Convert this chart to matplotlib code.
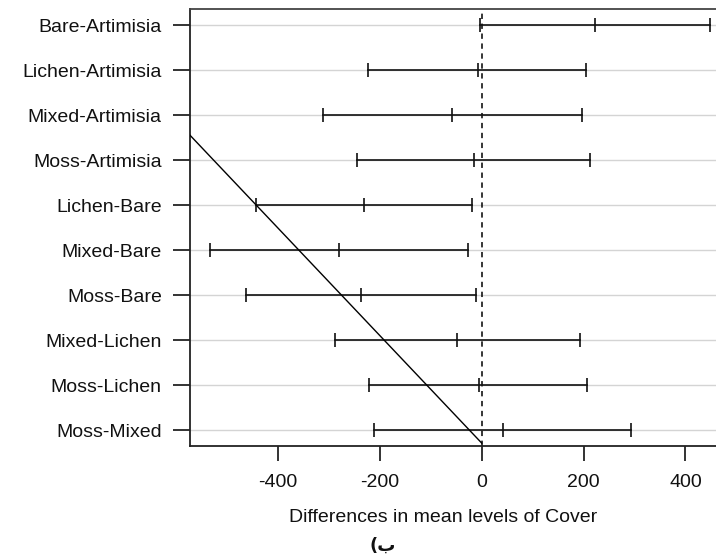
import matplotlib
matplotlib.use("Agg")
import matplotlib.pyplot as plt
import numpy as np

comparisons = ["Bare-Artimisia", "Lichen-Artimisia", "Mixed-Artimisia", "Moss-Artimisia",
               "Lichen-Bare", "Mixed-Bare", "Moss-Bare", "Mixed-Lichen", "Moss-Lichen", "Moss-Mixed"]
diff = [222, -8, -58, -16, -231, -281, -238, -48, -6, 42]
lwr = [-4, -223, -311, -245, -444, -533, -464, -289, -221, -212]
upr = [449, 204, 196, 212, -19, -27, -12, 193, 207, 294]
xticks = [-400, -200, 0, 200, 400]
line_x = [-574, 0]
line_y = [7.57, 0.71]

plt.rcParams['font.family'] = ['Liberation Sans', 'DejaVu Sans']

fig = plt.figure(figsize=(7.16, 5.6), dpi=100)
ax = fig.add_axes([189.6/716, 1-446.3/560, (730.5-189.6)/716, (446.3-9.3)/560])

n = len(comparisons)
yvals = np.arange(n, 0, -1)

for y in yvals:
    ax.axhline(y, color='#d4d4d4', lw=1.0, zorder=0)

ax.axvline(0, color='black', lw=1.1, ls=(0, (3.5, 3)), zorder=2)

for i in range(n):
    y = yvals[i]
    ax.plot([lwr[i], upr[i]], [y, y], color='#111111', lw=1.2, zorder=3)
    ax.plot([lwr[i], diff[i], upr[i]], [y, y, y], ls='none', marker='|',
            ms=10, mew=1.2, color='#111111', zorder=3)

ax.plot(line_x, line_y, color='black', lw=1.0, zorder=4)

ax.set_xlim(-573.9, 488.6)
ax.set_ylim(0.64, 10.36)
ax.set_xticks(xticks)
ax.set_xticklabels([str(v) for v in xticks])
ax.set_yticks(yvals)
ax.set_yticklabels(comparisons)
ax.tick_params(axis='y', length=12, width=1.2, pad=8, labelsize=14, colors='#111111')
ax.tick_params(axis='x', length=11, width=1.2, pad=9, labelsize=14, colors='#111111')

for s in ['left', 'bottom']:
    ax.spines[s].set_linewidth(1.3)
    ax.spines[s].set_color('#222222')
ax.spines['top'].set_linewidth(1.3)
ax.spines['top'].set_color('#444444')
ax.spines['right'].set_visible(False)

fig.text(443/716, 1-518/560, "Differences in mean levels of Cover", ha='center', va='center',
         fontsize=14, color='#111111')
fig.text(383/716, 1-551/560, "(ب", ha='center', va='baseline', fontsize=13, fontweight='bold',
         family=['DejaVu Sans'], color='#111111')

fig.savefig("out.png", dpi=100)
